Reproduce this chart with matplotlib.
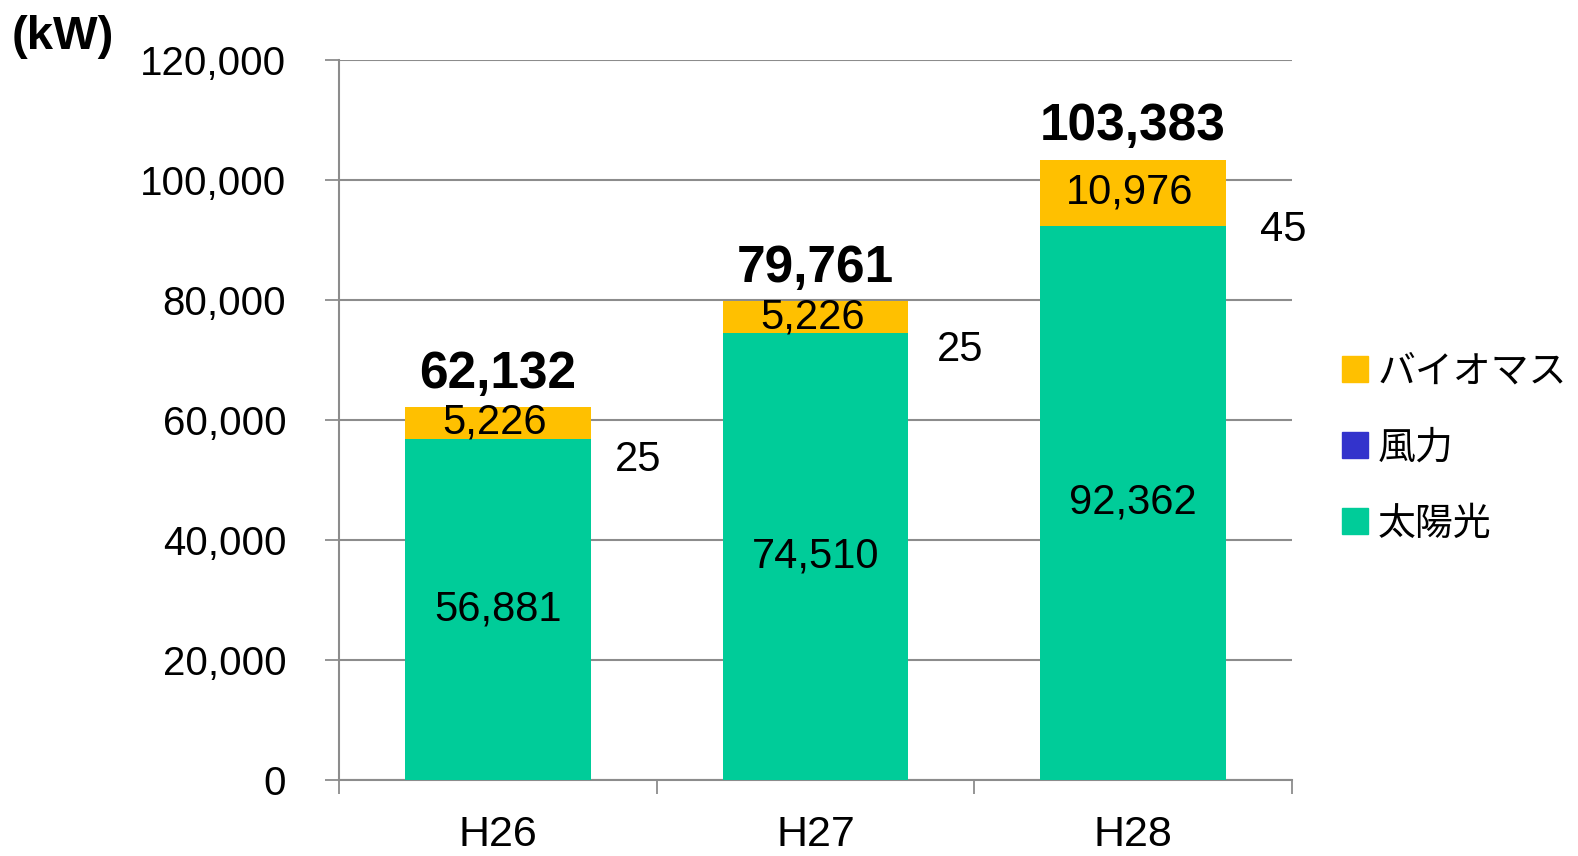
import matplotlib
matplotlib.use("Agg")
import matplotlib.pyplot as plt
from matplotlib.patches import Patch
import numpy as np

years = ["H26", "H27", "H28"]
solar = [56881, 74510, 92362]
wind = [25, 25, 45]
biomass = [5226, 5226, 10976]
totals = [62132, 79761, 103383]
yticks = [0, 20000, 40000, 60000, 80000, 100000, 120000]

c_solar = "#00CC99"
c_wind = "#3333CC"
c_bio = "#FFC000"
grey = "#8C8C8C"

num_font = ["Liberation Sans Narrow", "Liberation Sans", "DejaVu Sans"]
jp_font = ["Noto Sans CJK JP", "DejaVu Sans"]

fig = plt.figure(figsize=(15.78, 8.56), dpi=100)
ax = fig.add_axes([339 / 1578, 76 / 856, (1292 - 339) / 1578, 720 / 856])

x = np.arange(len(years))
w = 0.585
solar_a = np.array(solar)
wind_a = np.array(wind)
bio_a = np.array(biomass)
ax.bar(x, solar_a, w, color=c_solar, zorder=3)
ax.bar(x, wind_a, w, bottom=solar_a, color=c_wind, zorder=3)
ax.bar(x, bio_a, w, bottom=solar_a + wind_a, color=c_bio, zorder=3)

ax.set_xlim(-0.5, len(years) - 0.5)
ax.set_ylim(0, 120000)
ax.set_yticks(yticks)
ax.set_yticklabels([f"{v:,}" for v in yticks], fontsize=29, family=["Liberation Sans", "DejaVu Sans"])
ax.set_xticks(x)
ax.set_xticklabels(years, fontsize=31, family=num_font)
ax.set_xticks(np.arange(len(years) + 1) - 0.5, minor=True)
ax.tick_params(axis="x", which="major", length=0, pad=25)
ax.tick_params(axis="x", which="minor", length=10, width=1.3, color=grey, direction="out")
ax.tick_params(axis="y", length=10, width=1.3, color=grey, pad=28)

ax.yaxis.grid(True, color=grey, linewidth=1.5, zorder=0)
ax.set_axisbelow(True)
for s in ["top", "right"]:
    ax.spines[s].set_visible(False)
for s in ["left", "bottom"]:
    ax.spines[s].set_color(grey)
    ax.spines[s].set_linewidth(1.5)

# wind values sit beside the bars, a bit below the solar top
wind_dx = [101, 104, 108]
wind_dy = [-15, -12, -3]

for i in range(len(years)):
    ax.text(x[i], solar[i] / 2, f"{solar[i]:,}", ha="center", va="center",
            fontsize=30, family=num_font, zorder=4)
    ax.text(x[i] - 0.01, solar[i] + wind[i] + biomass[i] / 2, f"{biomass[i]:,}",
            ha="center", va="center", fontsize=30, family=num_font, zorder=4)
    ax.annotate(f"{wind[i]}", (x[i], solar[i]), xytext=(wind_dx[i], wind_dy[i]),
                textcoords="offset points", ha="center", va="center",
                fontsize=30, family=num_font, zorder=4)
    ax.annotate(f"{totals[i]:,}", (x[i], totals[i]), xytext=(0, 6),
                textcoords="offset points", ha="center", va="bottom",
                fontsize=37, fontweight="bold", family=["Liberation Sans", "DejaVu Sans"])

fig.text(12 / 1578, 1 - 37 / 856, "(kW)", fontsize=34, fontweight="bold",
         family=["Liberation Sans", "DejaVu Sans"], va="center", ha="left")

handles = [Patch(color=c_bio, label="バイオマス"),
           Patch(color=c_wind, label="風力"),
           Patch(color=c_solar, label="太陽光")]
fig.legend(handles=handles, loc="center left", bbox_to_anchor=(1308 / 1578, 1 - 448 / 856),
           frameon=False, prop={"family": jp_font, "size": 27.3},
           handlelength=0.68, handleheight=0.68, handletextpad=0.25, labelspacing=0.98)

fig.savefig("out.png", dpi=100)
